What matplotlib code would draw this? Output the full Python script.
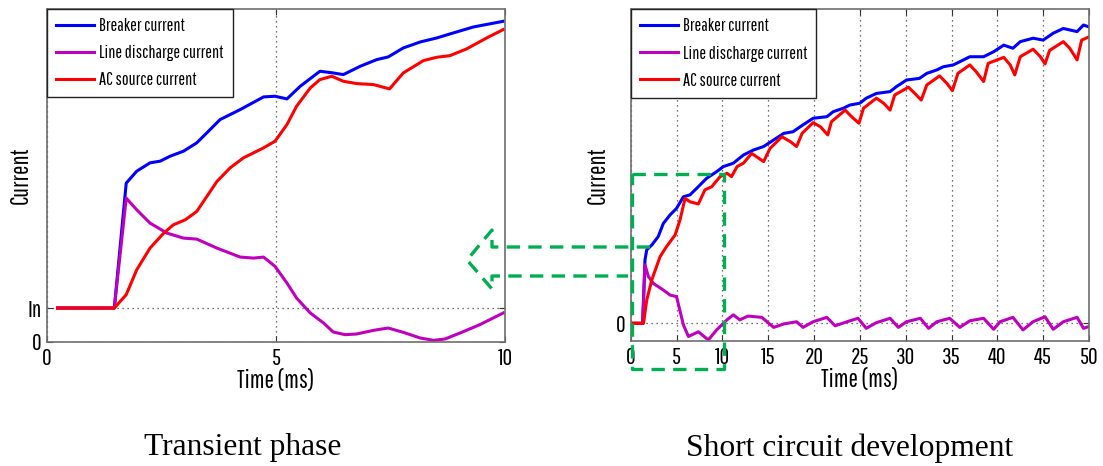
import matplotlib
matplotlib.use("Agg")
import matplotlib.pyplot as plt

plt.rcParams['font.family'] = ['Pathway Gothic One', 'Barlow Condensed', 'DejaVu Sans']

# ---- left panel: transient phase (0-10 ms), In level ~10.2 on a 0-100 scale
IN_LEVEL = 10.2
t_left_breaker = [0.23, 1.47, 1.73, 1.96, 2.25, 2.47, 2.69, 2.98, 3.27, 3.49, 3.78, 4.22,
                  4.73, 4.98, 5.24, 5.53, 5.96, 6.25, 6.47, 6.84, 7.2, 7.45, 7.78, 8.15,
                  8.51, 8.87, 9.31, 9.96]
i_left_breaker = [10.2, 10.2, 47.7, 51.3, 53.8, 54.3, 55.8, 57.3, 59.8, 62.8, 66.8, 69.8,
                  73.6, 73.8, 73.0, 76.8, 81.3, 80.8, 80.3, 82.8, 84.8, 85.6, 88.3, 90.1,
                  91.3, 92.8, 94.6, 96.3]

t_left_line = [0.23, 1.47, 1.73, 1.96, 2.25, 2.62, 2.98, 3.27, 3.71, 4.22, 4.51, 4.73, 4.98,
               5.24, 5.45, 5.75, 6.04, 6.25, 6.51, 6.76, 7.13, 7.45, 7.78, 8.15, 8.44, 8.69,
               9.02, 9.45, 9.96]
i_left_line = [10.2, 10.2, 43.2, 39.7, 35.7, 32.7, 31.2, 30.9, 28.2, 25.5, 25.2, 25.5, 22.7,
               17.7, 13.2, 8.7, 5.7, 3.0, 2.2, 2.4, 3.5, 4.2, 2.9, 1.2, 0.5, 0.9,
               2.7, 5.2, 8.7]

t_left_ac = [0.23, 1.47, 1.73, 1.96, 2.25, 2.55, 2.76, 3.02, 3.27, 3.71, 4.0, 4.29, 4.73,
             4.98, 5.24, 5.45, 5.75, 5.96, 6.22, 6.47, 6.76, 7.13, 7.48, 7.78, 8.22, 8.51,
             8.8, 9.16, 9.6, 9.96]
i_left_ac = [10.2, 10.2, 14.2, 21.7, 28.2, 32.7, 35.2, 36.7, 39.2, 48.2, 52.3, 55.3, 58.3,
             60.3, 65.3, 70.8, 76.3, 78.8, 79.8, 78.3, 77.6, 77.3, 76.0, 80.8, 84.5, 85.5,
             86.0, 88.0, 91.3, 93.8]

# ---- right panel: short circuit development (0-50 ms), 0 level at 0
t_right_breaker = [0.1, 1.3, 1.56, 1.75, 2.29, 3.0, 3.56, 4.29, 5.0, 5.75, 6.47, 7.2, 8.29,
                   9.38, 10.1, 11.2, 12.3, 13.4, 14.5, 15.6, 16.7, 17.7, 18.8, 19.9, 21.4,
                   22.1, 23.2, 23.9, 25.0, 25.7, 26.8, 28.3, 29.0, 30.1, 31.5, 32.3, 33.4,
                   34.1, 35.2, 35.9, 37.0, 38.5, 39.6, 40.7, 41.7, 42.5, 43.9, 45.0, 46.1,
                   47.2, 48.7, 49.4, 49.9]
i_right_breaker = [0, 0, 20.2, 23.4, 24.9, 27.6, 31.8, 34.5, 36.6, 40.3, 40.9, 43.0, 46.2,
                   48.3, 49.9, 51.0, 53.6, 55.2, 56.3, 58.4, 60.5, 61.0, 63.2, 65.3, 65.8,
                   67.4, 68.5, 69.5, 70.1, 71.7, 73.2, 73.8, 75.4, 77.5, 78.0, 79.6, 80.7,
                   81.7, 82.3, 83.3, 84.9, 84.9, 86.5, 88.6, 87.6, 89.7, 90.8, 90.2, 92.4,
                   93.9, 92.9, 95.0, 94.5]

t_right_line = [0.1, 1.3, 1.56, 1.93, 2.47, 3.56, 4.29, 5.0, 5.75, 6.3, 7.38, 8.47, 9.38,
                10.5, 11.2, 11.9, 12.8, 14.3, 15.6, 16.7, 18.1, 18.8, 19.9, 21.4, 22.3,
                23.6, 24.8, 25.7, 26.8, 28.3, 29.2, 30.1, 31.6, 32.5, 33.4, 34.8, 35.9,
                37.0, 38.5, 39.6, 40.3, 41.7, 42.8, 43.9, 45.2, 46.1, 47.2, 48.7, 49.4, 49.9]
i_right_line = [0, 0, 18.6, 14.9, 12.7, 10.6, 9.0, 8.5, -0.5, -4.2, -2.7, -5.3, -2.1,
                1.1, 2.7, 1.1, 2.3, 1.9, -1.3, -0.2, 0.5, -1.3, 0.5, 1.9, -0.8,
                0.5, 1.6, -1.6, 0.2, 1.6, -1.3, 0.5, 1.6, -1.6, 0.5, 1.6, -1.3,
                0.8, 1.6, -1.9, 0.5, 1.9, -2.1, 0.5, 2.1, -1.9, 0.5, 1.9, -1.6, -1.1]

t_right_ac = [0.1, 1.4, 1.75, 2.3, 3.2, 3.9, 4.84, 5.38, 5.93, 6.47, 7.38, 8.1, 8.84, 9.75,
              10.5, 11.0, 11.6, 12.3, 13.2, 14.5, 15.2, 16.5, 17.4, 18.1, 18.7, 19.9, 20.7,
              21.5, 21.9, 23.4, 24.1, 24.9, 25.4, 26.8, 27.6, 28.3, 28.8, 30.3, 31.0, 31.7,
              32.3, 33.7, 34.5, 35.1, 35.7, 37.0, 37.7, 38.5, 39.0, 40.7, 41.4, 41.9, 42.5,
              43.9, 44.7, 45.2, 45.7, 47.2, 47.9, 48.7, 49.2, 49.9]
i_right_ac = [0, 0, 7.4, 13.8, 21.2, 24.4, 28.1, 32.9, 39.8, 38.7, 38.0, 42.5, 43.5, 46.7,
              47.8, 46.7, 49.9, 51.0, 54.1, 51.5, 55.7, 59.4, 57.9, 56.3, 60.5, 63.9, 62.6,
              60.0, 64.2, 67.9, 65.8, 63.7, 68.5, 71.7, 70.1, 67.9, 72.7, 75.2, 73.2, 71.1,
              75.9, 78.8, 76.4, 74.1, 79.6, 82.3, 80.1, 77.0, 82.8, 84.7, 82.3, 79.1, 84.9,
              87.3, 84.9, 82.6, 86.9, 89.7, 87.6, 83.9, 90.2, 91.1]

labels = ['Breaker current', 'Line discharge current', 'AC source current']
colors = ['#0000ff', '#bf00bf', '#ff0000']

fig = plt.figure(figsize=(11.03, 4.66), dpi=100)
ax1 = fig.add_axes([0.0426, 0.2661, 0.4152, 0.7146])
ax2 = fig.add_axes([0.5718, 0.2676, 0.4155, 0.7124])

panels = [
    (ax1, [(t_left_breaker, i_left_breaker), (t_left_line, i_left_line), (t_left_ac, i_left_ac)]),
    (ax2, [(t_right_breaker, i_right_breaker), (t_right_line, i_right_line), (t_right_ac, i_right_ac)]),
]

for ax, series in panels:
    for (t, i), c, lab in zip(series, colors, labels):
        ax.plot(t, i, color=c, lw=2.2, label=lab)
    for s in ax.spines.values():
        s.set_color('#6e6e6e')
        s.set_linewidth(1.2)
    ax.tick_params(direction='in', length=4, top=True, right=True, labelsize=17,
                   color='#333333', pad=4)
    ax.grid(True, linestyle=(0, (1, 3)), color='#444444', lw=0.9)
    ax.set_xlabel('Time (ms)', fontsize=18, labelpad=0)
    ax.set_ylabel('Current', fontsize=18)
    leg = ax.legend(loc='upper left', borderaxespad=0, fancybox=False, fontsize=13,
                    handlelength=2.1, handletextpad=0.3, labelspacing=0.62,
                    borderpad=0.5, framealpha=1)
    leg.get_frame().set_edgecolor('#222222')
    leg.get_frame().set_linewidth(1.0)

ax1.set_xlim(0, 10)
ax1.set_ylim(0, 100)
ax1.set_xticks([0, 5, 10])
ax1.set_yticks([0, IN_LEVEL])
ax1.set_yticklabels(['0', 'In'])
ax1.yaxis.set_label_coords(-0.032, 0.5)

ax2.set_xlim(0, 50)
ax2.set_ylim(-5.73, 100)
ax2.set_xticks(range(0, 51, 5))
ax2.set_yticks([0])
ax2.yaxis.set_label_coords(-0.046, 0.5)

# overlay for the green dashed zoom box and arrow (pixel coords)
ov = fig.add_axes([0, 0, 1, 1], facecolor='none')
ov.set_xlim(0, 1103)
ov.set_ylim(466, 0)
ov.axis('off')
green = '#00b050'
box_x = [631.7, 724, 724, 631.7, 631.7]
box_y = [174, 174, 369, 369, 174]
ov.plot(box_x, box_y, color=green, lw=2.4, linestyle=(0, (4, 2.5)))
arr_x = [650, 492, 492, 467, 492, 492, 628]
arr_y = [247, 247, 230, 260, 289, 276, 276]
ov.plot(arr_x, arr_y, color=green, lw=2.4, linestyle=(0, (4, 2.5)))

fig.text(243 / 1103, 1 - 448 / 466, 'Transient phase', family='Liberation Serif',
         fontsize=22.7, ha='center', va='center')
fig.text(850 / 1103, 1 - 448 / 466, 'Short circuit development', family='Liberation Serif',
         fontsize=22.7, ha='center', va='center')

fig.savefig('out.png', dpi=100)
